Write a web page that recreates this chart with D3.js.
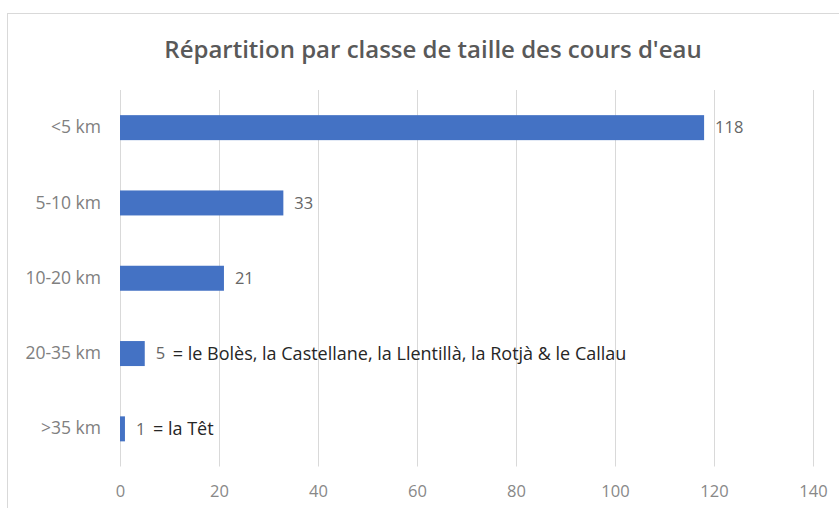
<!DOCTYPE html>
<html>
<head>
<meta charset="utf-8">
<script src="https://cdn.jsdelivr.net/npm/d3@7"></script>
<style>
  body { margin: 0; background: #fff; }
  svg { display: block; }
</style>
</head>
<body>
<svg></svg>
<script>
// data
var categories = ["<5 km", "5-10 km", "10-20 km", "20-35 km", ">35 km"];
var counts = [118, 33, 21, 5, 1];
var notes = ["", "", "", "= le Bolès, la Castellane, la Llentillà, la Rotjà & le Callau", "= la Têt"];
var xTicks = [0, 20, 40, 60, 80, 100, 120, 140];
var title = "Répartition par classe de taille des cours d'eau";

var svgWidth = 839, svgHeight = 508;
var margin = { top: 90, right: 26, bottom: 41.5, left: 120 };
var width = svgWidth - margin.left - margin.right;
var height = svgHeight - margin.top - margin.bottom;
var font = "'Open Sans', 'Noto Sans', sans-serif";

var svg = d3.select("svg")
  .attr("width", svgWidth)
  .attr("height", svgHeight);

// chart frame (only top and left edges are visible)
svg.append("rect")
  .attr("x", 7.5).attr("y", 13.5)
  .attr("width", svgWidth).attr("height", svgHeight)
  .attr("fill", "#fff")
  .attr("stroke", "#d9d9d9");

svg.append("text")
  .attr("x", 433).attr("y", 58)
  .attr("text-anchor", "middle")
  .style("font-family", font)
  .style("font-size", "24px")
  .style("font-weight", 600)
  .attr("fill", "#595959")
  .text(title);

var g = svg.append("g")
  .attr("transform", "translate(" + margin.left + "," + margin.top + ")");

var x = d3.scaleLinear().domain([0, 140]).range([0, 693]);
var y = d3.scaleBand().domain(categories).range([0, height]).paddingInner(0.668).paddingOuter(0.334);

// vertical gridlines
g.append("g")
  .selectAll("line")
  .data(xTicks)
  .enter().append("line")
  .attr("x1", function(d) { return Math.round(x(d)) + 0.5; })
  .attr("x2", function(d) { return Math.round(x(d)) + 0.5; })
  .attr("y1", 0).attr("y2", height)
  .attr("stroke", "#d9d9d9");

// x axis labels
var xAxis = g.append("g")
  .attr("transform", "translate(0," + height + ")")
  .call(d3.axisBottom(x).tickValues(xTicks).tickSize(0).tickPadding(19));
xAxis.select(".domain").remove();
xAxis.selectAll("text")
  .style("font-family", font)
  .style("font-size", "16.5px")
  .attr("fill", "#888888");

// y axis labels
var yAxis = g.append("g")
  .call(d3.axisLeft(y).tickSize(0).tickPadding(19));
yAxis.select(".domain").remove();
yAxis.selectAll("text")
  .style("font-family", font)
  .style("font-size", "17.5px")
  .attr("fill", "#808080");

g.selectAll(".bar")
  .data(counts)
  .enter().append("rect")
  .attr("class", "bar")
  .attr("x", x(0))
  .attr("y", function(d, i) { return y(categories[i]); })
  .attr("width", function(d) { return x(d) - x(0); })
  .attr("height", y.bandwidth())
  .attr("fill", "#4472c4");

g.selectAll(".val")
  .data(counts)
  .enter().append("text")
  .attr("class", "val")
  .attr("x", function(d) { return x(d) + 11; })
  .attr("y", function(d, i) { return y(categories[i]) + y.bandwidth() / 2; })
  .attr("dy", "0.35em")
  .style("font-family", font)
  .style("font-size", "16.5px")
  .attr("fill", "#666666")
  .text(function(d) { return d; });

g.selectAll(".note")
  .data(notes)
  .enter().append("text")
  .attr("class", "note")
  .attr("x", function(d, i) { return x(counts[i]) + 28; })
  .attr("y", function(d, i) { return y(categories[i]) + y.bandwidth() / 2; })
  .attr("dy", "0.35em")
  .style("font-family", font)
  .style("font-size", "18px")
  .attr("fill", "#262626")
  .text(function(d) { return d; });
</script>
</body>
</html>
